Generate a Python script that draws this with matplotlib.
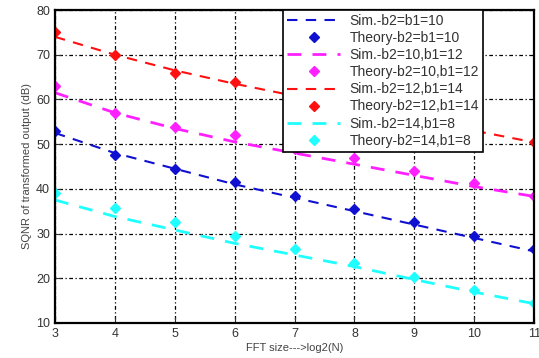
import matplotlib.pyplot as plt

plt.rcParams['font.family'] = ['Liberation Sans', 'DejaVu Sans']

x = [3, 4, 5, 6, 7, 8, 9, 10, 11]

sim_10 = [52.5, 48.0, 44.5, 41.0, 38.0, 35.0, 32.0, 29.0, 26.0]
th_10 = [53.0, 47.5, 44.5, 41.5, 38.5, 35.5, 32.5, 29.5, 26.5]
sim_12 = [61.5, 57.0, 53.5, 50.5, 48.0, 45.5, 43.0, 40.5, 38.3]
th_12 = [63.0, 57.0, 53.8, 52.0, 49.0, 46.8, 44.0, 41.2, 38.3]
sim_14 = [74.0, 70.0, 66.5, 63.5, 60.8, 58.0, 55.5, 53.0, 50.4]
th_14 = [75.0, 70.0, 66.0, 64.0, 61.0, 58.5, 56.0, 53.0, 50.4]
sim_8 = [37.5, 33.8, 30.8, 27.8, 25.2, 22.6, 19.7, 16.9, 14.3]
th_8 = [39.0, 35.8, 32.5, 29.5, 26.6, 23.5, 20.3, 17.3, 14.4]

series = [
    ("Sim.-b2=b1=10", "Theory-b2=b1=10", sim_10, th_10, "#1010d0", 1.5),
    ("Sim.-b2=10,b1=12", "Theory-b2=10,b1=12", sim_12, th_12, "#ff20ff", 2.0),
    ("Sim.-b2=12,b1=14", "Theory-b2=12,b1=14", sim_14, th_14, "#ff1010", 1.5),
    ("Sim.-b2=14,b1=8", "Theory-b2=14,b1=8", sim_8, th_8, "#20ffff", 2.0),
]

fig = plt.figure(figsize=(5.39, 3.58), dpi=100)
ax = fig.add_axes([0.102, 0.098, 0.889, 0.874])

for sl, tl, s, t, c, lw in series:
    ax.plot(x, s, "--", color=c, lw=lw, dashes=(5, 4), label=sl)
    ax.plot(x, t, "D", color=c, ms=5, ls="none", label=tl)

ax.set(xlim=(3, 11), ylim=(10, 80))
ax.set_xticks(x)
ax.set_yticks(range(10, 81, 10))
ax.grid(True, color="black", ls=(0, (1, 2, 3, 2)), lw=0.9)
ax.tick_params(direction="in", labelsize=9, colors="#333333", length=4)
for sp in ax.spines.values():
    sp.set_linewidth(1.6)

ax.set_xlabel("FFT size--->log2(N)", fontsize=8, color="#444444", labelpad=2)
ax.set_ylabel("SQNR of transformed output (dB)", fontsize=8, color="#444444", labelpad=3)

leg = ax.legend(loc="upper left", bbox_to_anchor=(0.476, 1.0), fontsize=10,
                fancybox=False, framealpha=1, edgecolor="black",
                borderaxespad=0, handlelength=3.8, labelspacing=0.22,
                borderpad=0.3, handletextpad=0.7)
leg.get_frame().set_linewidth(1.2)
for txt in leg.get_texts():
    txt.set_color("#333333")

fig.savefig("out.png", dpi=100)
